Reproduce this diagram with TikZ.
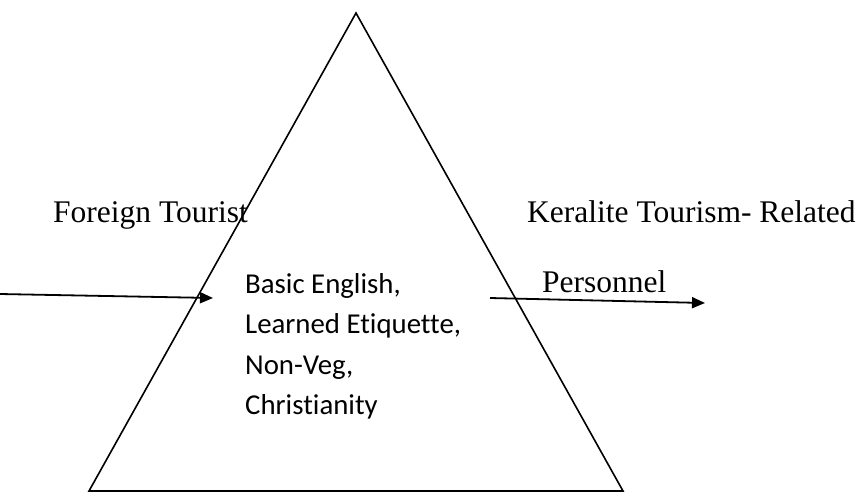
\documentclass[tikz,border=0pt]{standalone}
\usepackage{fontspec}
\setmainfont{Liberation Serif}
\newfontfamily\innerfont[Ligatures=NoCommon]{Carlito}
\usetikzlibrary{arrows.meta}
\tikzset{
  lbl/.style={font=\fontsize{31.5}{36}\selectfont, inner sep=0pt, anchor=base west},
  inline/.style={font=\innerfont\fontsize{28.8}{40}\selectfont, inner sep=0pt, anchor=base west},
  arr/.style={line width=1.8pt, -{Triangle[length=13pt,width=11pt]}},
  tri/.style={line width=1.6pt, line join=miter}
}
\begin{document}
\begin{tikzpicture}[x=1pt,y=-1pt]
\useasboundingbox (0,0) rectangle (864,496);
\coordinate (A) at (356,13);
\coordinate (B) at (89,491);
\coordinate (C) at (623,491);
\node[lbl] (ft) at (53,222) {Foreign Tourist};
\node[lbl] (kt) at (527,222) {Keralite Tourism- Related};
\node[lbl] (pe) at (542,292) {Personnel};
\node[inline] (t1) at (245,293) {Basic English,};
\node[inline] (t2) at (245,333) {Learned Etiquette,};
\node[inline] (t3) at (245,374) {Non-Veg,};
\node[inline] (t4) at (245,414) {Christianity};
\draw[tri] (A) -- (B) -- (C) -- cycle;
\coordinate (l0) at (0,294);
\coordinate (l1) at (213,298);
\coordinate (r0) at (490,298);
\coordinate (r1) at (705,303);
\draw[arr] (l0) -- (l1);
\draw[arr] (r0) -- (r1);
\end{tikzpicture}
\end{document}
